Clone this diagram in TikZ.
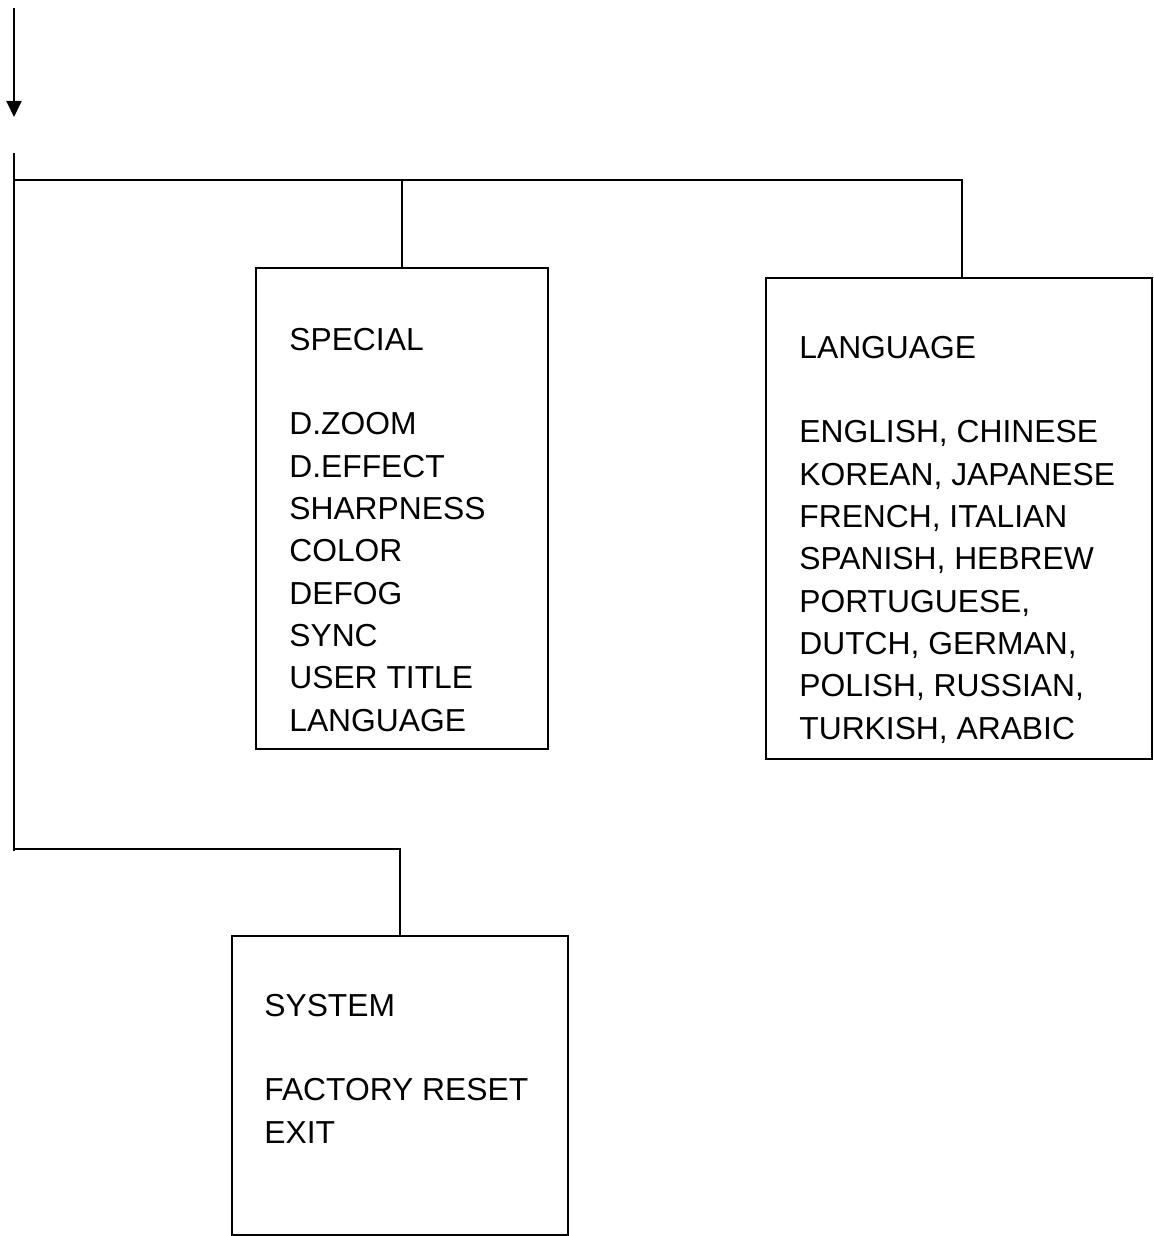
\documentclass[tikz,border=0pt]{standalone}
\usepackage{fontspec}
\setmainfont{Liberation Sans}
\usetikzlibrary{arrows.meta}

\begin{document}
\begin{tikzpicture}[
  x=0.02cm, y=-0.02cm,
  every node/.style={font=\fontsize{18.1pt}{24.07pt}\selectfont},
  menubox/.style={draw, line width=1.2pt, rectangle, inner sep=0pt, anchor=north west},
  menutext/.style={align=left, inner sep=0pt, anchor=base west},
  link/.style={line width=1.2pt}
]
\useasboundingbox (0,0) rectangle (1153,1236);

% Boxes
\node[menubox, minimum width=5.84cm, minimum height=9.62cm] (special) at (255,267) {};
\node[menubox, minimum width=7.72cm, minimum height=9.62cm] (language) at (765,277) {};
\node[menubox, minimum width=6.72cm, minimum height=5.98cm] (system) at (231,935) {};

% Menu texts (placed by the baseline of their last line)
\node[menutext] (specialtext) at (289,731) {SPECIAL\\[24.07pt]D.ZOOM\\D.EFFECT\\SHARPNESS\\COLOR\\DEFOG\\SYNC\\USER TITLE\\LANGUAGE};
\node[menutext] (languagetext) at (799,739) {LANGUAGE\\[24.07pt]ENGLISH, CHINESE\\KOREAN, JAPANESE\\FRENCH, ITALIAN\\SPANISH, HEBREW\\PORTUGUESE,\\DUTCH, GERMAN,\\POLISH, RUSSIAN,\\TURKISH, ARABIC};
\node[menutext] (systemtext) at (264,1143) {SYSTEM\\[24.07pt]FACTORY RESET\\EXIT};

% Connectors
\coordinate (entry) at (14,8);
\coordinate (entryend) at (14,117);
\coordinate (trunktop) at (14,153);
\coordinate (trunkbot) at (14,851);
\coordinate (bus) at (14,180);
\coordinate (lowbus) at (14,849);

\draw[link, -{Triangle[width=0.3cm, length=0.32cm]}] (entry) -- (entryend);
\draw[link] (trunktop) -- (trunkbot);
\draw[link] (bus) -| ([xshift=1.5pt]language.north);
\draw[link] (special.north |- bus) -- (special.north);
\draw[link] (lowbus) -| (system.north);
\end{tikzpicture}
\end{document}
